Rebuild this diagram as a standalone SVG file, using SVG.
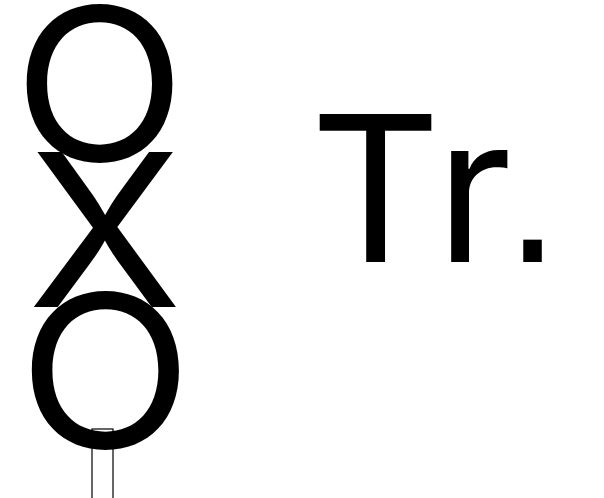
<svg xmlns="http://www.w3.org/2000/svg" width="604" height="498" viewBox="0 0 604 498">
<style>.t{font-family:Inter,"Liberation Sans",sans-serif;fill:#000}.big{font-size:213px}.tr{font-size:203px}.dot{font-family:"DejaVu Sans",sans-serif;font-size:180px}</style>
<rect width="604" height="498" fill="#fff"/>
<g id="stem"><rect x="92" y="429" width="21" height="70" fill="#fff" stroke="#000" stroke-width="1.2"/></g>
<text class="t big" transform="translate(13.3 161) scale(1.06 1)">O</text>
<text class="t big" transform="translate(27.6 307) scale(1.065 1)">X</text>
<text class="t big" transform="translate(18.2 448) scale(1.07 1)">O</text>
<text class="t tr" x="310" y="262">T<tspan dx="6">r</tspan><tspan class="dot" x="504">.</tspan></text>
</svg>
